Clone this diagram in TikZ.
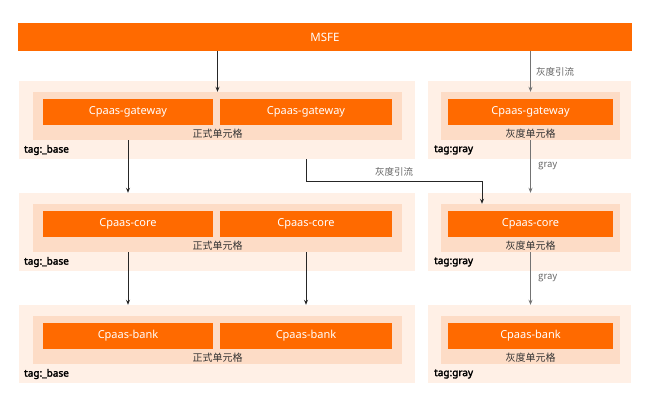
\documentclass[tikz,border=0pt]{standalone}
\usepackage{fontspec}
\setmainfont{Noto Sans}[AutoFakeBold=2.5]
\newfontfamily\cjk{Noto Sans CJK SC}
\usetikzlibrary{arrows.meta}
\definecolor{ali}{HTML}{FF6A00}
\definecolor{panel}{HTML}{FFF0E6}
\definecolor{cell}{HTML}{FDDCC6}

\begin{document}
\begin{tikzpicture}[x=1pt,y=-1pt,
  outer/.style={fill=panel,inner sep=0pt,minimum height=78pt},
  cellbox/.style={fill=cell,inner sep=0pt,minimum height=48pt},
  svc/.style={fill=ali,text=white,inner sep=0pt,minimum height=26pt,font=\fontsize{11}{13}\selectfont},
  lbl/.style={text=black!80,font=\fontsize{10}{12}\selectfont\cjk},
  alab/.style={text=black!60,font=\fontsize{9.5}{11}\selectfont\cjk},
  tagl/.style={anchor=west,inner sep=0pt,font=\fontsize{10}{12}\selectfont\bfseries},
  blk/.style={draw=black!85,line width=0.9pt,-{Stealth[length=5pt,width=4pt]}},
  gry/.style={draw=black!55,line width=0.8pt,-{Stealth[length=5pt,width=4pt]}}]
  \useasboundingbox (0,0) rectangle (650,407);
  \node[fill=ali,text=white,minimum width=614pt,minimum height=28pt,inner sep=0pt,
        font=\fontsize{11.5}{13}\selectfont] (msfe) at (325,37) {MSFE};
  % three rows: left formal cells, right gray cells
  \foreach \r/\dy/\svcname in {1/0/gateway,2/112/core,3/224/bank} {
    \node[outer,minimum width=396pt] (oL\r) at (217,120+\dy) {};
    \node[cellbox,minimum width=369pt] (cL\r) at (217.5,116+\dy) {};
    \node[svc,minimum width=170pt] (sA\r) at (128,112+\dy) {Cpaas-\svcname};
    \node[svc,minimum width=172pt] (sB\r) at (306,112+\dy) {Cpaas-\svcname};
    \node[lbl] (fL\r) at (217.5,134+\dy) {正式单元格};
    \node[tagl] (tL\r) at (24,150+\dy) {tag:\_base};
    \node[outer,minimum width=203pt] (oR\r) at (529.5,120+\dy) {};
    \node[cellbox,minimum width=179pt] (cR\r) at (530.5,116+\dy) {};
    \node[svc,minimum width=165pt] (sC\r) at (530.5,112+\dy) {Cpaas-\svcname};
    \node[lbl] (fR\r) at (530.5,134+\dy) {灰度单元格};
    \node[tagl] (tR\r) at (434,150+\dy) {tag:gray};
  }
  \coordinate (elb) at (482,181);

  \draw[blk] (msfe.south -| cL1.north) -- (cL1.north);
  \draw[gry] (msfe.south -| cR1.north) -- node[right=2pt,alab] {灰度引流} (cR1.north);
  \draw[blk] (sA1 |- cL1.south) -- (sA1 |- oL2.north);
  \draw[blk] (sB1 |- oL1.south) -- (sB1 |- elb) -- node[above=1pt,alab] {灰度引流} (elb) -- (elb |- cR2.north);
  \draw[gry] (cR1.south) -- node[right=4pt,alab] {gray} (cR1.south |- oR2.north);
  \draw[blk] (sA2 |- cL2.south) -- (sA2 |- oL3.north);
  \draw[blk] (sB2 |- cL2.south) -- (sB2 |- oL3.north);
  \draw[gry] (cR2.south) -- node[right=4pt,alab] {gray} (cR2.south |- oR3.north);
\end{tikzpicture}
\end{document}
